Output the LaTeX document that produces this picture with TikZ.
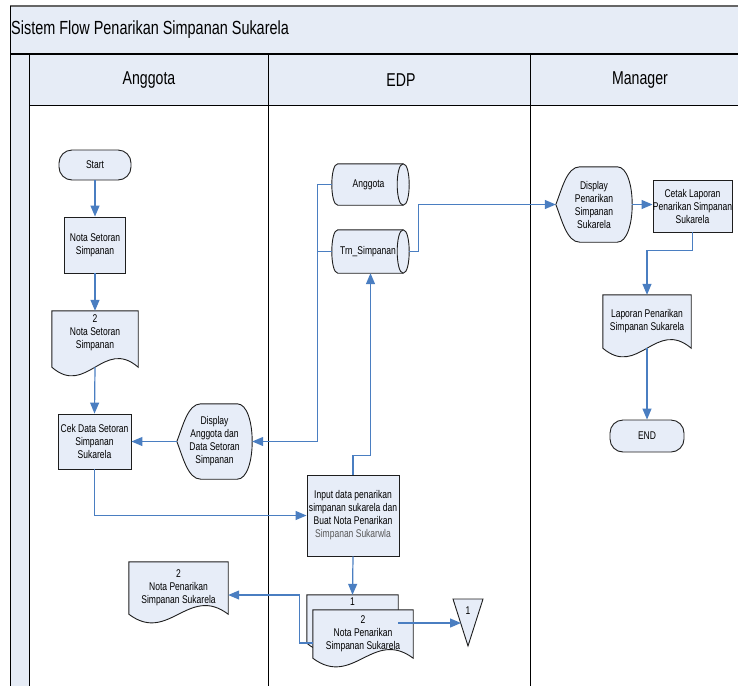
\documentclass[tikz,border=0pt]{standalone}
\usepackage{fontspec}
\usetikzlibrary{arrows.meta,calc}
\newfontfamily\nf[FakeStretch=0.76]{Liberation Sans}
\newcommand\boxfont{\nf\fontsize{11.2pt}{13pt}\selectfont}
\newcommand\hdfont{\nf\fontsize{18.6pt}{20pt}\selectfont}
\newcommand\ttlfont{\nf\fontsize{19pt}{20pt}\selectfont}
\definecolor{bandfill}{RGB}{230,236,246}
\definecolor{shapefill}{RGB}{231,237,248}
\definecolor{flowblue}{RGB}{74,126,193}
\definecolor{edge}{RGB}{30,30,30}
\pgfdeclarelayer{lanes}
\pgfdeclarelayer{shapes}
\pgfsetlayers{lanes,shapes,main}

% document symbol with a wavy bottom edge
\newcommand\docpath[2]{%
  \filldraw[shapeline] (#1.north west) -- (#1.north east) -- (#1.south east)
    .. controls ($(#1.south east)!0.4!(#1.south west)+(0,-#2)$)
           and ($(#1.south east)!0.6!(#1.south west)+(0,#2)$) .. (#1.south west) -- cycle;}
% display symbol
\newcommand\disppath[1]{%
  \filldraw[shapeline] (#1.west)
    .. controls ($(#1.west)+(6,-15)$) and ($(#1.north west)+(11,0)$) .. ($(#1.north west)+(24,0)$)
    -- ($(#1.north east)+(-15,0)$)
    .. controls ($(#1.north east)+(5,0)$) and ($(#1.south east)+(5,0)$) .. ($(#1.south east)+(-15,0)$)
    -- ($(#1.south west)+(24,0)$)
    .. controls ($(#1.south west)+(11,0)$) and ($(#1.west)+(6,15)$) .. cycle;}
% direct access storage (horizontal drum)
\newcommand\drumpath[1]{%
  \filldraw[shapeline] ($(#1.north west)+(6,0)$) -- ($(#1.north east)+(-6,0)$)
    .. controls ($(#1.north east)+(2,0)$) and ($(#1.south east)+(2,0)$) .. ($(#1.south east)+(-6,0)$)
    -- ($(#1.south west)+(6,0)$)
    .. controls ($(#1.south west)+(-2,0)$) and ($(#1.north west)+(-2,0)$) .. cycle;
  \draw[shapeline] ($(#1.north east)+(-6,0)$)
    .. controls ($(#1.north east)+(-14,0)$) and ($(#1.south east)+(-14,0)$) .. ($(#1.south east)+(-6,0)$);}

\tikzset{
  shapeline/.style={draw=edge,fill=shapefill,line width=0.9pt},
  proc/.style={shapeline,align=center,font=\boxfont,inner sep=0pt},
  term/.style={proc,rounded corners=13pt},
  ghost/.style={align=center,font=\boxfont,inner sep=0pt},
  flow/.style={draw=flowblue,line width=1.2pt,-{Triangle[length=11pt,width=9pt]}},
  link/.style={draw=flowblue,line width=1.2pt},
  frame/.style={draw=black,line width=1pt},
}

\begin{document}
\begin{tikzpicture}[x=1pt,y=-1pt]
\useasboundingbox (0,0) rectangle (738,686);

% swimlane frame
\begin{pgfonlayer}{lanes}
  \fill[bandfill] (10,6) rectangle (738,54);
  \fill[bandfill] (10,54) rectangle (29,686);
  \fill[bandfill] (29,54) rectangle (738,105);
  \draw[draw=gray!80!black,line width=1.3pt] (10,6) -- (738,6);
  \draw[frame,line width=1.7pt] (10,54) -- (738,54);
  \draw[frame] (10,6) -- (10,686);
  \draw[frame] (29,54) -- (29,686);
  \draw[frame] (29,105) -- (738,105);
  \draw[frame] (268,54) -- (268,686);
  \draw[frame] (530,54) -- (530,686);
\end{pgfonlayer}

\node[anchor=west,font=\ttlfont,inner sep=0pt] (title) at (11,30) {Sistem Flow Penarikan Simpanan Sukarela};
\node[font=\hdfont] (hAng) at (149,80) {Anggota};
\node[font=\hdfont] (hEdp) at (401,80) {EDP};
\node[font=\hdfont] (hMgr) at (640,80) {Manager};

% Anggota lane
\node[term,minimum width=72pt,minimum height=30pt] (start) at (95,165) {Start};
\node[proc,minimum width=61pt,minimum height=56pt] (nota) at (95,245) {Nota Setoran\\Simpanan};
\node[ghost,minimum width=86pt,minimum height=56pt] (doc1) at (95,339) {2\\Nota Setoran\\Simpanan\\[2pt]};
\node[proc,minimum width=73pt,minimum height=55pt] (cek) at (94.5,441.5) {Cek Data Setoran\\Simpanan\\Sukarela};
\node[ghost,minimum width=75pt,minimum height=75pt] (disp1) at (214.5,441.5) {Display\\Anggota dan\\Data Setoran\\Simpanan};
\node[ghost,minimum width=99pt,minimum height=52pt] (docL) at (178.5,588) {2\\Nota Penarikan\\Simpanan Sukarela};

% EDP lane
\node[ghost,minimum width=77pt,minimum height=41pt] (adb) at (370.5,184.5) {Anggota\hspace*{4pt}};
\node[ghost,minimum width=77pt,minimum height=43pt] (trn) at (370.5,251.5) {Trn\_Simpanan\hspace*{5pt}};
\node[proc,minimum width=92pt,minimum height=81pt] (input) at (353,515.5)
  {Input data penarikan\\simpanan sukarela dan\\Buat Nota Penarikan\\\textcolor{gray!70!black}{Simpanan Sukarwla}};
\node[ghost,minimum width=91pt,minimum height=48pt] (docB) at (352.5,619) {};
\node[ghost] (docBnum) at ($(docB.north)+(0,7)$) {1};
\node[ghost,minimum width=100pt,minimum height=48pt] (docF) at (363,634) {2\\Nota Penarikan\\Simpanan Sukarela};
\node[ghost] (off) at (468,611) {1};
\coordinate (offL) at ($(off)+(-7,12)$);

% Manager lane
\node[ghost,minimum width=76pt,minimum height=75pt] (disp2) at (594,204.5) {Display\\Penarikan\\Simpanan\\Sukarela};
\node[proc,minimum width=79pt,minimum height=52pt] (cetak) at (692.5,206) {Cetak Laporan\\Penarikan Simpanan\\Sukarela};
\node[ghost,minimum width=88pt,minimum height=53pt] (lap) at (647,321.5) {Laporan Penarikan\\Simpanan Sukarela};
\node[term,minimum width=74pt,minimum height=32pt] (end) at (647,436) {END};

% symbol outlines
\begin{pgfonlayer}{shapes}
  \docpath{doc1}{30}
  \docpath{docL}{30}
  \docpath{docB}{30}
  \docpath{docF}{30}
  \docpath{lap}{30}
  \disppath{disp1}
  \disppath{disp2}
  \drumpath{adb}
  \drumpath{trn}
  \filldraw[shapeline] ($(off)+(-15,-12)$) -- ($(off)+(15,-12)$) -- ($(off)+(0,35)$) -- cycle;
\end{pgfonlayer}

% connectors
\draw[flow] (start) -- (nota);
\draw[flow] (nota) -- (doc1);
\draw[flow] (doc1.south) -- (cek.north);
\draw[flow] (disp1.west) -- (cek.east);
\draw[flow] (adb.west) -- ++(-14,0) coordinate (bus) |- (disp1.east);
\draw[link] (trn.west) -- (trn.west -| bus);
\draw[flow] (input.north) -- ++(0,-19) -| (trn.south);
\draw[flow] (trn.east) -- ++(9,0) |- (disp2.west);
\draw[flow] (disp2.east) -- (disp2.east -| cetak.west);
\draw[flow] (cetak.south) -- ++(0,18) -| (lap.north);
\draw[flow] (lap.south) -- (end.north);
\draw[flow] (cek.south) |- (input.west);
\draw[flow] (input.south) -- (docB.north);
\draw[flow] ([yshift=-9pt]docF.west) -- ++(-13,0) |- ([yshift=-7pt]docL.east);
\draw[flow] ([xshift=-15pt,yshift=11pt]docF.east) -- (offL);
\end{tikzpicture}
\end{document}
